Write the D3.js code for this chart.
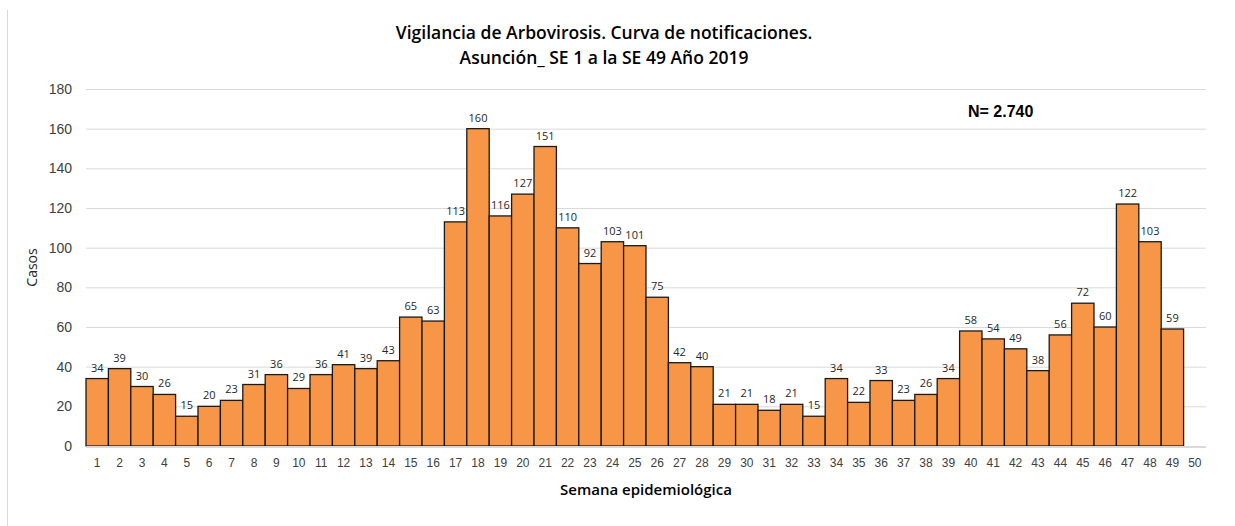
<!DOCTYPE html>
<html>
<head>
<meta charset="utf-8">
<script src="https://cdn.jsdelivr.net/npm/d3@7"></script>
<style>
  body { margin: 0; background: #fff; }
  svg { font-family: "Open Sans", "Noto Sans", sans-serif; }
</style>
</head>
<body>
<svg class="chart" width="1235" height="526"></svg>
<script>
// semanas epidemiologicas 1..50 (la 50 sin dato)
var weeks = d3.range(1, 51).map(String);
var cases = [34, 39, 30, 26, 15, 20, 23, 31, 36, 29, 36, 41, 39, 43, 65, 63, 113, 160, 116, 127,
             151, 110, 92, 103, 101, 75, 42, 40, 21, 21, 18, 21, 15, 34, 22, 33, 23, 26, 34, 58,
             54, 49, 38, 56, 72, 60, 122, 103, 59];
var yTicks = [0, 20, 40, 60, 80, 100, 120, 140, 160, 180];
var titleLines = ["Vigilancia de Arbovirosis. Curva de notificaciones.", "Asunción_ SE 1 a la SE 49 Año 2019"];
var totalLabel = "N= 2.740";

var data = cases.map(function(v, i) { return {week: weeks[i], value: v}; });

var margin = {top: 89, right: 29, bottom: 80, left: 86};
var width = 1235 - margin.left - margin.right;
var height = 526 - margin.top - margin.bottom;

var svg = d3.select(".chart");

// left border line of the chart area
svg.append("line")
  .attr("x1", 7.5).attr("x2", 7.5)
  .attr("y1", 10).attr("y2", 526)
  .style("stroke", "#d9d9d9");

var chart = svg.append("g")
  .attr("transform", "translate(" + margin.left + "," + margin.top + ")");

var x = d3.scaleBand().domain(weeks).range([0, width]).padding(0);
var y = d3.scaleLinear().domain([0, 180]).range([height, 0]);

// gridlines + y labels
var yAxis = d3.axisLeft(y).tickValues(yTicks).tickSize(-width).tickPadding(14);
chart.append("g")
  .attr("class", "y axis")
  .call(yAxis)
  .call(function(g) {
    g.select(".domain").remove();
    g.selectAll(".tick line").style("stroke", "#d9d9d9");
    g.selectAll(".tick text").style("font-size", "14px").style("fill", "#404040");
  });

chart.selectAll(".bar")
  .data(data)
  .enter().append("rect")
  .attr("class", "bar")
  .attr("x", function(d) { return x(d.week); })
  .attr("y", function(d) { return y(d.value); })
  .attr("width", x.bandwidth())
  .attr("height", function(d) { return height - y(d.value); })
  .style("fill", "#F79646")
  .style("stroke", "#1a1a1a")
  .style("stroke-width", 1.3);

// x axis baseline
chart.append("line")
  .attr("x1", 0).attr("x2", width)
  .attr("y1", height + 1).attr("y2", height + 1)
  .style("stroke", "#d9d9d9")
  .style("stroke-width", 2);

var xAxis = d3.axisBottom(x).tickSize(0).tickPadding(12);
chart.append("g")
  .attr("class", "x axis")
  .attr("transform", "translate(0," + height + ")")
  .call(xAxis)
  .call(function(g) {
    g.select(".domain").remove();
    g.selectAll(".tick text").style("font-size", "12px").style("fill", "#404040");
  });

// value labels
chart.selectAll(".label")
  .data(data)
  .enter().append("text")
  .attr("class", "label")
  .attr("x", function(d) { return x(d.week) + x.bandwidth() / 2; })
  .attr("y", function(d) { return y(d.value) - 7; })
  .attr("text-anchor", "middle")
  .style("font-size", "11px")
  .style("fill", "#262626")
  .text(function(d) { return d.value; });

// titles
svg.selectAll(".chart-title")
  .data(titleLines)
  .enter().append("text")
  .attr("class", "chart-title")
  .attr("x", 604)
  .attr("y", function(d, i) { return 39 + i * 25; })
  .attr("text-anchor", "middle")
  .style("font-size", "17.5px")
  .style("font-weight", "600")
  .style("fill", "#000")
  .text(function(d) { return d; });

svg.append("text")
  .attr("x", 968)
  .attr("y", 117)
  .style("font-family", "'Liberation Sans', Arial, sans-serif")
  .style("font-size", "16px")
  .style("font-weight", "bold")
  .style("fill", "#000")
  .text(totalLabel);

svg.append("text")
  .attr("transform", "translate(37," + (margin.top + height / 2) + ") rotate(-90)")
  .attr("text-anchor", "middle")
  .style("font-size", "14px")
  .style("fill", "#262626")
  .text("Casos");

svg.append("text")
  .attr("x", margin.left + width / 2)
  .attr("y", 495)
  .attr("text-anchor", "middle")
  .style("font-size", "15px")
  .style("font-weight", "600")
  .style("fill", "#000")
  .text("Semana epidemiológica");
</script>
</body>
</html>
